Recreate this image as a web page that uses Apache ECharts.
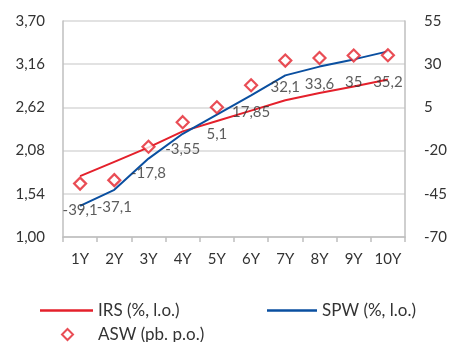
<!DOCTYPE html>
<html><head><meta charset="utf-8">
<script src="https://cdn.jsdelivr.net/npm/echarts@6/dist/echarts.min.js"></script>
<style>html,body{margin:0;padding:0;background:#fff}#c{width:456px;height:342px}</style>
</head><body><div id="c"></div>
<script>
const categories = ['1Y','2Y','3Y','4Y','5Y','6Y','7Y','8Y','9Y','10Y'];
const irs = [1.76, 1.94, 2.12, 2.32, 2.45, 2.58, 2.71, 2.80, 2.88, 2.97];
const spw = [1.39, 1.59, 1.98, 2.29, 2.53, 2.77, 3.02, 3.13, 3.22, 3.32];
const asw = [-39.1, -37.1, -17.8, -3.55, 5.1, 17.85, 32.1, 33.6, 35, 35.2];
const leftTicks = ['1,00','1,54','2,08','2,62','3,16','3,70'];
const rightTicks = ['-70','-45','-20','5','30','55'];
const seriesNames = ['IRS (%, l.o.)','SPW (%, l.o.)','ASW (pb. p.o.)'];

const FONT = 'Lato';
const TXT = '#333333';
const RED = '#E4202B';
const BLUE = '#0A4FA0';

const chart = echarts.init(document.getElementById('c'));
chart.setOption({
  animation: false,
  backgroundColor: '#ffffff',
  textStyle: {fontFamily: FONT, color: TXT},
  grid: {left: 63, right: 51, top: 21, bottom: 105},
  legend: [
    {data: [seriesNames[0]], left: 35, top: 297, itemWidth: 53, itemHeight: 2.5, icon: 'rect', itemGap: 0,
     textStyle: {fontFamily: FONT, fontSize: 17, color: TXT}},
    {data: [seriesNames[1]], left: 262, top: 297, itemWidth: 50, itemHeight: 2.5, icon: 'rect',
     textStyle: {fontFamily: FONT, fontSize: 17, color: TXT}},
    {data: [seriesNames[2]], left: 56, top: 321, itemWidth: 11, itemHeight: 11,
     textStyle: {fontFamily: FONT, fontSize: 17, color: TXT, padding: [0,0,0,20]}}
  ],
  xAxis: {
    type: 'category', data: categories, boundaryGap: true,
    axisLine: {onZero: false, lineStyle: {color: '#BFBFBF', width: 1.5}},
    axisTick: {show: true, length: 5, lineStyle: {color: '#BFBFBF', width: 1.5}},
    axisLabel: {interval: 0, fontFamily: FONT, fontSize: 15, color: TXT, margin: 15}
  },
  yAxis: [
    {type: 'value', min: 1, max: 3.7, interval: 0.54, position: 'left',
     axisLine: {show: true, onZero: false, lineStyle: {color: '#BFBFBF', width: 1.5}},
     axisTick: {show: false},
     splitLine: {show: true, lineStyle: {color: '#D9D9D9', width: 1.5}},
     axisLabel: {fontFamily: FONT, fontSize: 15, color: TXT, margin: 18,
       formatter: (v) => leftTicks[Math.round((v - 1) / 0.54)]}},
    {type: 'value', min: -70, max: 55, interval: 25, position: 'right',
     axisLine: {show: true, onZero: false, lineStyle: {color: '#BFBFBF', width: 1.5}},
     axisTick: {show: false},
     splitLine: {show: false},
     axisLabel: {fontFamily: FONT, fontSize: 15, color: TXT, margin: 19, align: 'left',
       formatter: (v) => rightTicks[Math.round((v + 70) / 25)]}}
  ],
  series: [
    {name: seriesNames[0], type: 'line', yAxisIndex: 0, data: irs, symbol: 'none',
     lineStyle: {color: RED, width: 2}, itemStyle: {color: RED}, z: 2},
    {name: seriesNames[1], type: 'line', yAxisIndex: 0, data: spw, symbol: 'none',
     lineStyle: {color: BLUE, width: 2}, itemStyle: {color: BLUE}, z: 3},
    {name: seriesNames[2], type: 'scatter', yAxisIndex: 1, data: asw,
     symbol: 'diamond', symbolSize: 12,
     itemStyle: {color: '#ffffff', borderColor: RED, borderWidth: 2.2},
     label: {show: true, position: 'bottom', distance: 12, fontFamily: FONT, fontSize: 15, color: TXT,
       formatter: (p) => String(p.value).replace('.', ',')}, z: 4}
  ]
});
</script></body></html>
